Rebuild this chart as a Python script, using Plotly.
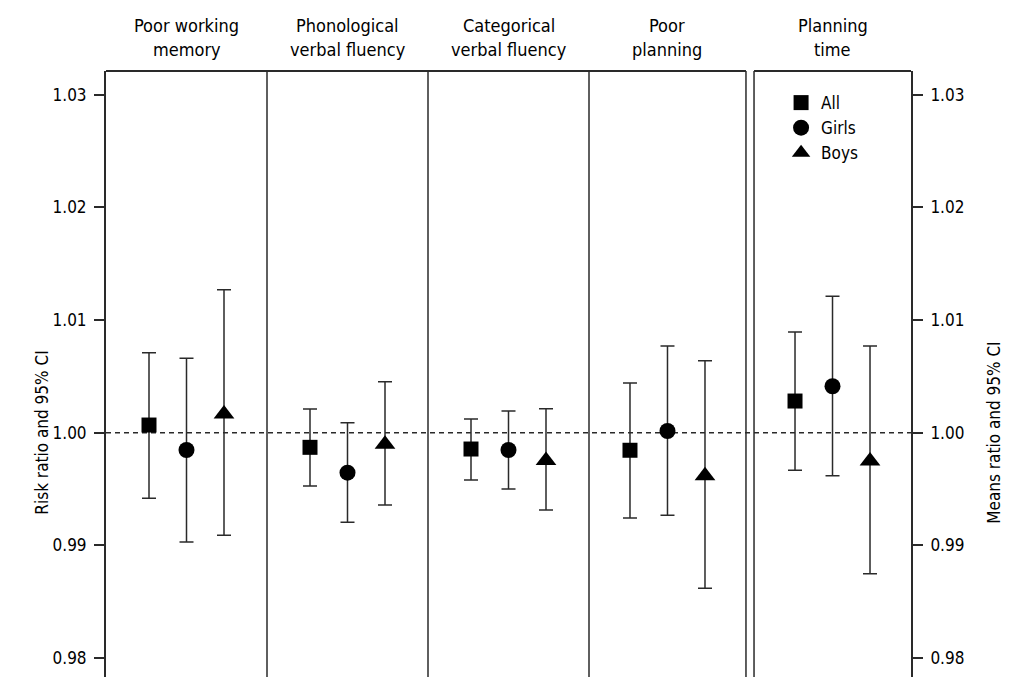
import plotly.graph_objects as go

# ---- data ----
categories = ["Poor working\nmemory", "Phonological\nverbal fluency", "Categorical\nverbal fluency",
              "Poor\nplanning", "Planning\ntime"]
groups = ["All", "Girls", "Boys"]
symbols = ["square", "circle", "triangle-up"]
sizes = [15, 16, 18]

all_est = [1.00068, 0.99870, 0.99855, 0.99844, 1.00281]
all_lo = [0.99418, 0.99527, 0.99580, 0.99243, 0.99666]
all_hi = [1.00710, 1.00210, 1.00122, 1.00441, 1.00894]

girls_est = [0.99846, 0.99645, 0.99846, 1.00015, 1.00412]
girls_lo = [0.99030, 0.99205, 0.99500, 0.99267, 0.99618]
girls_hi = [1.00660, 1.00089, 1.00193, 1.00770, 1.01211]

boys_est = [1.00166, 0.99898, 0.99754, 0.99618, 0.99749]
boys_lo = [0.99089, 0.99358, 0.99314, 0.98619, 0.98748]
boys_hi = [1.01270, 1.00453, 1.00213, 1.00639, 1.00770]

tick_vals = [0.98, 0.99, 1.00, 1.01, 1.02, 1.03]
tick_text = ["0.98", "0.99", "1.00", "1.01", "1.02", "1.03"]
left_title = "Risk ratio and 95% CI"
right_title = "Means ratio and 95% CI"

est = [all_est, girls_est, boys_est]
lo = [all_lo, girls_lo, boys_lo]
hi = [all_hi, girls_hi, boys_hi]

# ---- layout geometry (page body has an 8px margin) ----
W, H = 1001, 669
ML, MR, MT, MB = 98, 98, 63, 0
PW = W - ML - MR
domains = [[0.0, 0.2], [0.2, 0.4], [0.4, 0.6], [0.6, 0.795], [0.805, 1.0]]
spacing_px = 37.5
FONT = "DejaVu Sans Condensed, Liberation Sans Narrow, Arial Narrow, sans-serif"
LC = "#2a2a2a"
FS = 17

fig = go.Figure()

for p in range(len(categories)):
    xa = "x" if p == 0 else f"x{p+1}"
    for g in range(3):
        fig.add_trace(go.Scatter(
            x=[g - 1], y=[est[g][p]],
            xaxis=xa, yaxis="y",
            mode="markers",
            name=groups[g], legendgroup=groups[g], showlegend=(p == 0),
            marker=dict(symbol=symbols[g], size=sizes[g], color="black"),
            error_y=dict(type="data", symmetric=False,
                         array=[hi[g][p] - est[g][p]],
                         arrayminus=[est[g][p] - lo[g][p]],
                         color=LC, thickness=1.5, width=7),
            hoverinfo="y",
        ))

# invisible trace for right axis
fig.add_trace(go.Scatter(x=[0], y=[1.0], xaxis="x5", yaxis="y2", mode="markers",
                         marker=dict(opacity=0), showlegend=False, hoverinfo="skip"))

yrange = [0.97831, 1.03211]
axis_common = dict(range=yrange, tickvals=tick_vals, ticktext=tick_text,
                   showgrid=False, zeroline=False, showline=True, linecolor=LC, linewidth=2,
                   ticks="outside", ticklen=10, tickwidth=1.5, tickcolor=LC,
                   tickfont=dict(size=17), ticklabelstandoff=4)
layout = dict(
    width=W, height=H,
    margin=dict(l=ML, r=MR, t=MT, b=MB, pad=0),
    paper_bgcolor="white", plot_bgcolor="white",
    font=dict(family=FONT, size=FS, color="black"),
    showlegend=True,
    legend=dict(x=0.8386, y=0.9768, xanchor="left", yanchor="top",
                bgcolor="rgba(0,0,0,0)", font=dict(size=FS), tracegroupgap=0),
    yaxis=dict(anchor="x", **axis_common),
    yaxis2=dict(overlaying="y", side="right", anchor="x5", **axis_common),
)
for p, dom in enumerate(domains):
    key = "xaxis" if p == 0 else f"xaxis{p+1}"
    half = (dom[1] - dom[0]) * PW / 2 / spacing_px
    layout[key] = dict(domain=dom, range=[-half, half], visible=False, anchor="y",
                       showgrid=False, zeroline=False, fixedrange=True)
fig.update_layout(**layout)

shapes = []
# top borders
shapes.append(dict(type="line", xref="paper", yref="paper", x0=0, x1=0.795, y0=1, y1=1,
                   line=dict(color=LC, width=2)))
shapes.append(dict(type="line", xref="paper", yref="paper", x0=0.805, x1=1, y0=1, y1=1,
                   line=dict(color=LC, width=2)))
for xv in [0.2, 0.4, 0.6, 0.795, 0.805]:
    shapes.append(dict(type="line", xref="paper", yref="paper", x0=xv, x1=xv, y0=0, y1=1,
                       line=dict(color=LC, width=1.5)))
# reference line at 1.00
shapes.append(dict(type="line", xref="paper", yref="y", x0=0, x1=1, y0=1.0, y1=1.0,
                   line=dict(color=LC, width=1.6, dash="5px,4px"), layer="below"))
fig.update_layout(shapes=shapes)

ann = []
for p, cat in enumerate(categories):
    cx = (domains[p][0] + domains[p][1]) / 2
    lines = cat.split("\n")
    shifts = [46, 22]
    for ln, ys in zip(lines, shifts):
        ann.append(dict(text=ln, xref="paper", yref="paper", x=cx, y=1, yshift=ys,
                        xanchor="center", yanchor="middle", showarrow=False,
                        font=dict(size=18, family=FONT)))
ann.append(dict(text=left_title, xref="paper", yref="y", x=(34 - ML) / PW, y=1.0,
                textangle=-90, showarrow=False, xanchor="center", yanchor="middle",
                font=dict(size=17, family=FONT)))
ann.append(dict(text=right_title, xref="paper", yref="y", x=(986 - ML) / PW, y=1.0,
                textangle=-90, showarrow=False, xanchor="center", yanchor="middle",
                font=dict(size=17, family=FONT)))
fig.update_layout(annotations=ann)

fig.write_html("out.html")
